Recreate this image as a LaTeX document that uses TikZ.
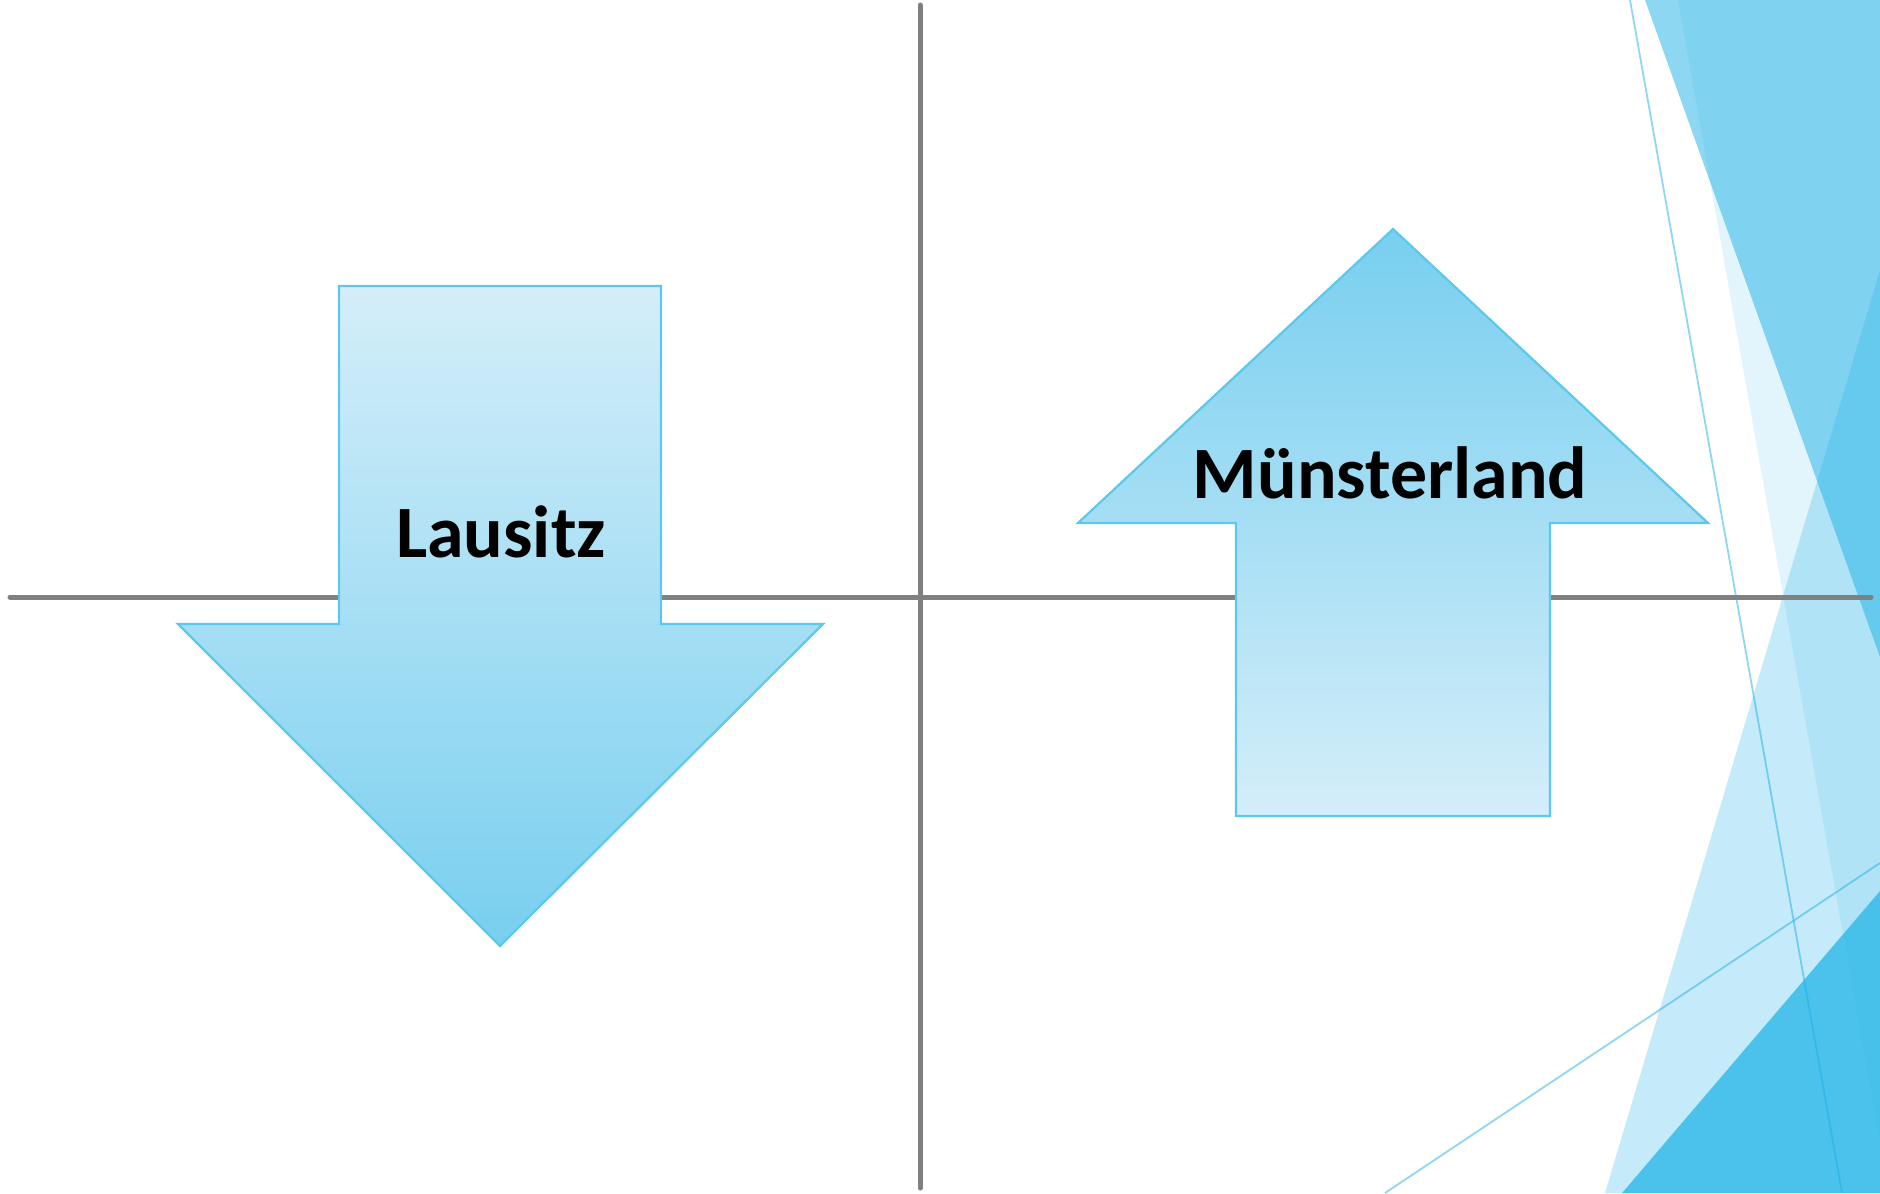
\documentclass[tikz,border=0pt]{standalone}
\usepackage{fontspec}
\setmainfont{Carlito}
\usepackage{tikz}
\definecolor{facet}{RGB}{30,175,230}
\definecolor{facetdark}{RGB}{62,190,234}
\definecolor{arrowedge}{RGB}{91,200,236}
\definecolor{arrowlight}{RGB}{212,238,249}
\definecolor{arrowdark}{RGB}{120,207,239}
\definecolor{axisgray}{RGB}{128,128,128}

\begin{document}
\begin{tikzpicture}[x=0.01cm, y=-0.01cm,
                    axisline/.style={draw=axisgray, line width=0.05cm, line cap=round},
                    bigarrow/.style={draw=arrowedge, line width=0.022cm, line join=miter},
                    facetline/.style={draw=facet, draw opacity=0.5, line width=0.018cm},
                    regionname/.style={font=\fontsize{21pt}{25pt}\selectfont\bfseries, anchor=base, inner sep=0pt}]
                    \useasboundingbox (0,0) rectangle (1880,1193);
                    \fill[facet, opacity=0.5] (1645,0) -- (1880,0) -- (1880,657) -- cycle;
                    \fill[facet, opacity=0.13] (1678,0) -- (1880,0) -- (1880,1144) -- cycle;
                    \fill[facet, opacity=0.26] (1880,270) -- (1880,1193) -- (1605,1193) -- cycle;
                    \fill[facetdark, opacity=0.9] (1880,891) -- (1880,1193) -- (1622,1193) -- cycle;
                    \draw[facetline] (1630,0) -- (1842,1193);
                    \draw[facetline] (1385,1193) -- (1880,863);
                    \draw[axisline] (920,5) -- (920,1188);
                    \draw[axisline] (10,597) -- (1871,597);
                    \shade[bigarrow, top color=arrowlight, bottom color=arrowdark] (339,286) -- (661,286) -- (661,624) -- (823,624) -- (500,946) -- (178,624) -- (339,624) -- cycle;
                    \shade[bigarrow, top color=arrowdark, bottom color=arrowlight] (1393,229) -- (1708,523) -- (1550,523) -- (1550,816) -- (1236,816) -- (1236,523) -- (1078,523) -- cycle;
                    \node[regionname] (lausitz) at (501,557) {Lausitz};
                    \node[regionname] (muensterland) at (1390,498) {Münsterland};
                \end{tikzpicture}
\end{document}
